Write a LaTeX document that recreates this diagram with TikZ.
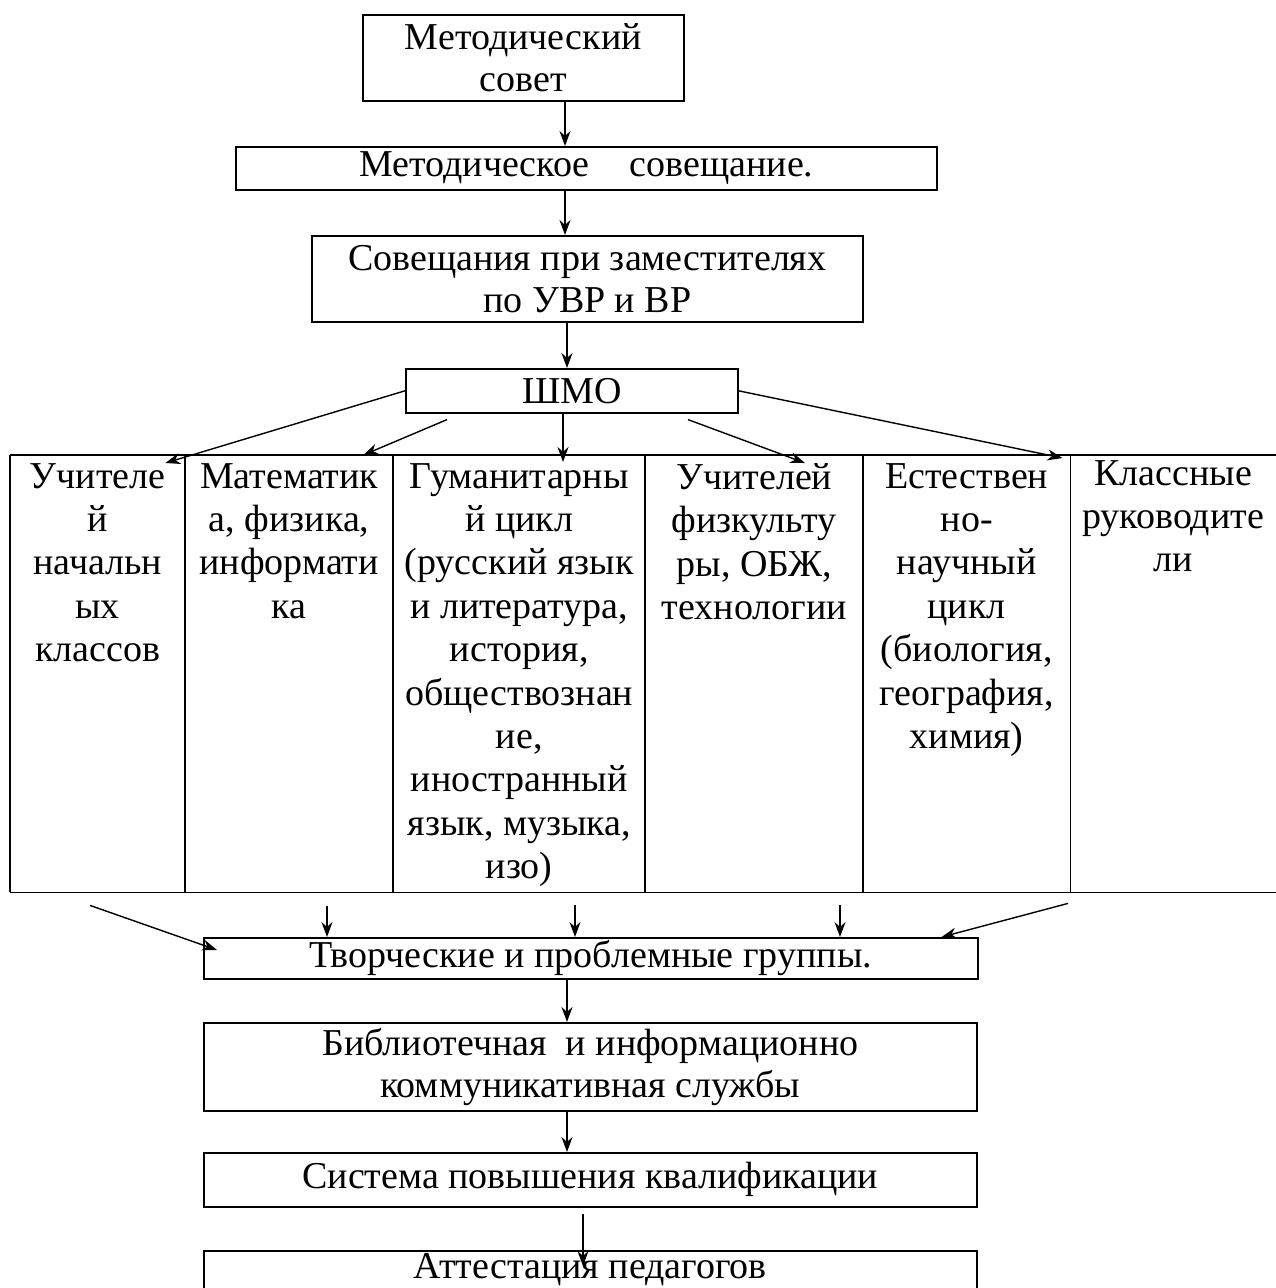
\documentclass[tikz,border=0pt]{standalone}
\usepackage{fontspec}
\setmainfont{Liberation Serif}
\usetikzlibrary{arrows.meta,calc}
\begin{document}
\begin{tikzpicture}[x=1pt,y=-1pt,
  box/.style={draw,line width=1.6pt,inner sep=0pt,anchor=north west,align=center,font=\fontsize{38}{42}\selectfont},
  col/.style={inner sep=0pt,anchor=north west,minimum height=437pt},
  coltext/.style={anchor=north,align=center,inner sep=0pt,font=\fontsize{38}{43.4}\selectfont},
  arr/.style={line width=1.4pt,-{Stealth[length=15pt,width=11pt]}},
  grid/.style={line width=1.6pt}]
\path[use as bounding box] (0,0) rectangle (1276,1288);
\clip (0,0) rectangle (1276,1288);
% upper chain
\node[box,minimum width=321pt,minimum height=86pt] (b1) at (362,14) {Методический\\совет};
\node[box,minimum width=701pt,minimum height=43pt] (b2) at (235,146) {Методическое\hspace{40pt}совещание.};
\node[box,minimum width=551pt,minimum height=86pt] (b3) at (311,235) {Совещания при заместителях\\по УВР и ВР};
\node[box,minimum width=332pt,minimum height=44pt] (b4) at (405,368) {ШМО};
% table columns
\node[col,minimum width=175pt] (c1) at (10,455) {};
\node[col,minimum width=208pt] (c2) at (185,455) {};
\node[col,minimum width=252pt] (c3) at (393,455) {};
\node[col,minimum width=218pt] (c4) at (645,455) {};
\node[col,minimum width=207pt] (c5) at (863,455) {};
\node[col,minimum width=206pt] (c6) at (1070,455) {};
\draw[grid] (c1.north west) -- (c6.north east);
\draw[grid] (c1.south west) -- (c6.south east);
\foreach \c in {c1,c2,c3,c4,c5}{\draw[grid] (\c.north west) -- (\c.south west);}
\draw[grid] (c5.north east) -- (c5.south east);
\node[coltext] (t1) at ($(c1.north)+(0,8)$) {Учителе\\й\\начальн\\ых\\классов};
\node[coltext] (t2) at ($(c2.north)+(0,8)$) {Математик\\а, физика,\\информати\\ка};
\node[coltext] (t3) at ($(c3.north)+(0,8)$) {Гуманитарны\\й цикл\\(русский язык\\и литература,\\история,\\обществознан\\ие,\\иностранный\\язык, музыка,\\изо)};
\node[coltext] (t4) at ($(c4.north)+(0,8)$) {Учителей\\физкульту\\ры, ОБЖ,\\технологии};
\node[coltext] (t5) at ($(c5.north)+(0,8)$) {Естествен\\но-\\научный\\цикл\\(биология,\\география,\\химия)};
\node[coltext] (t6) at ($(c6.north)+(0,5)$) {Классные\\руководите\\ли};
% lower chain
\node[box,minimum width=774pt,minimum height=41pt] (b5) at (203,937) {Творческие и проблемные группы.};
\node[box,minimum width=773pt,minimum height=88pt] (b6) at (203,1022) {Библиотечная\ \ и информационно\\коммуникативная службы};
\node[box,minimum width=773pt,minimum height=54pt] (b7) at (203,1152) {Система повышения квалификации};
\node[box,minimum width=773pt,text height=28pt,text depth=32pt] (b8) at (203,1250) {Аттестация педагогов};
% connectors
\coordinate (xa) at (565,0);
\coordinate (xb) at (567,0);
\coordinate (xc) at (583,0);
\draw[arr] (b1.south -| xa) -- (b2.north -| xa);
\draw[arr] (b2.south -| xa) -- (b3.north -| xa);
\draw[arr] (b3.south -| xb) -- (b4.north -| xb);
\draw[arr] (b4.west) -- ($(c1.north east)+(-20,8)$);
\draw[arr] ($(b4.south west)+(42,6)$) -- ($(c2.north east)+(-30,0)$);
\draw[arr] ($(b4.south west)+(158,0)$) -- ($(c3.north west)+(170,7)$);
\draw[arr] ($(b4.south west)+(283,6)$) -- ($(c4.north west)+(160,8)$);
\draw[arr] (b4.east) -- ($(c5.north east)+(-8,3)$);
\coordinate (s1) at ($(c1.south west)+(80,13)$);
\coordinate (s2) at ($(c2.south west)+(142,14)$);
\coordinate (s3) at ($(c3.south west)+(182,13)$);
\coordinate (s4) at ($(c4.south west)+(195,13)$);
\coordinate (s5) at ($(c6.south west)+(-2,11)$);
\draw[arr] (s1) -- ($(b5.north west)+(14,13)$);
\draw[arr] (s2) -- (b5.north -| s2);
\draw[arr] (s3) -- (b5.north -| s3);
\draw[arr] (s4) -- (b5.north -| s4);
\draw[arr] (s5) -- ($(b5.north east)+(-37,0)$);
\draw[arr] (b5.south -| xb) -- (b6.north -| xb);
\draw[arr] (b6.south -| xb) -- (b7.north -| xb);
\draw[arr] ($(b7.south -| xc)+(0,6)$) -- ($(b8.north -| xc)+(0,16)$);
\end{tikzpicture}
\end{document}
